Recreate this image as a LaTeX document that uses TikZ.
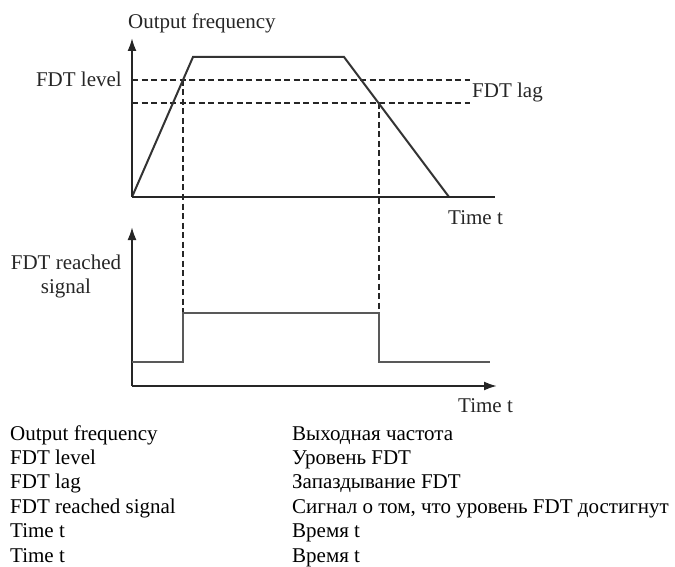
\documentclass[tikz,border=0pt]{standalone}
\usepackage{fontspec}
\setmainfont{Liberation Serif}
\usetikzlibrary{arrows.meta}
\begin{document}
\begin{tikzpicture}[x=1pt,y=-1pt,
  lbl/.style={inner sep=0pt, font=\fontsize{21}{24}\selectfont, text=black!85},
  axis/.style={line width=2pt, draw=black!85},
  arr/.style={-{Latex[length=13pt,width=9pt]}},
  curve/.style={line width=2pt, draw=black!80},
  lvl/.style={line width=1.6pt, draw=black!85, dash pattern=on 6pt off 3.5pt},
  sig/.style={line width=2.4pt, draw=black!65},
]
\useasboundingbox (0,0) rectangle (675,567);

% top graph coordinates
\coordinate (o1) at (132,197);
\coordinate (y1) at (132,38);
\coordinate (x1) at (495,197);
\coordinate (t1) at (193,57);
\coordinate (t2) at (344,57);
\coordinate (t3) at (449,197);
\coordinate (lvlL) at (132,80);
\coordinate (lvlR) at (470,80);
\coordinate (lagL) at (132,103);
\coordinate (lagR) at (470,103);
\coordinate (ia) at (183,80);
\coordinate (ib) at (379,103);

% bottom graph coordinates
\coordinate (o2) at (132,386);
\coordinate (y2) at (132,227);
\coordinate (x2) at (497,386);
\coordinate (s0) at (132,362);
\coordinate (s1) at (183,362);
\coordinate (s2) at (183,313);
\coordinate (s3) at (379,313);
\coordinate (s4) at (379,362);
\coordinate (s5) at (490,362);

% dashed levels and projections
\draw[lvl] (lvlL) -- (lvlR);
\draw[lvl] (lagL) -- (lagR);
\draw[lvl] (ia) -- (s2);
\draw[lvl] (ib) -- (s3);

% output frequency curve
\draw[curve] (o1) -- (t1) -- (t2) -- (t3);

% axes
\draw[axis,arr] (o1) -- (y1);
\draw[axis] (o1) -- (x1);
\draw[axis,arr] (o2) -- (y2);
\draw[axis,arr] (o2) -- (x2);

% signal
\draw[sig] (s0) -- (s1) -- (s2) -- (s3) -- (s4) -- (s5);

% labels in diagram
\node[lbl, anchor=base west] (ofreq) at (128,29) {Output frequency};
\node[lbl, anchor=base east] (fdtlevel) at (122,87) {FDT level};
\node[lbl, anchor=base west] (fdtlag) at (472,98) {FDT lag};
\node[lbl, anchor=base west] (time1) at (448,225) {Time t};
\node[lbl, anchor=base, align=center] (reached) at (66,293) {FDT reached\\signal};
\node[lbl, anchor=base west] (time2) at (458,412) {Time t};

% legend table
\foreach \i/\en/\ru in {0/Output frequency/Выходная частота,
                        1/FDT level/Уровень FDT,
                        2/FDT lag/Запаздывание FDT,
                        3/FDT reached signal/{Сигнал о том, что уровень FDT достигнут},
                        4/Time t/Время t,
                        5/Time t/Время t}{
  \node[lbl, anchor=base west, text=black] (en\i) at (10,440+24.4*\i) {\en};
  \node[lbl, anchor=base west, text=black] (ru\i) at (292,440+24.4*\i) {\ru};
}
\end{tikzpicture}
\end{document}
